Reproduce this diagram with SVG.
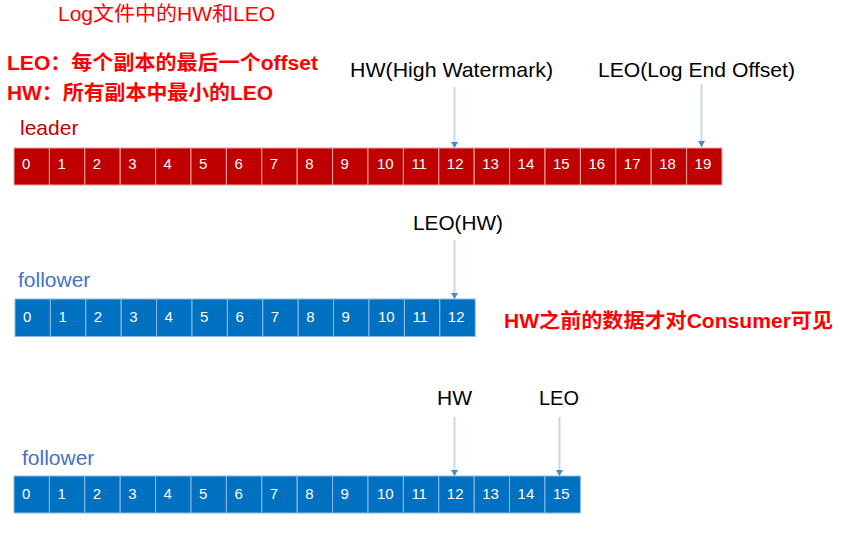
<svg xmlns="http://www.w3.org/2000/svg" width="845" height="557" viewBox="0 0 845 557">
<style>
.num{font-family:"Liberation Sans",Arial,sans-serif;font-size:15px;fill:#ffffff}
.rc{fill:#c00000;stroke:#e9a4a4;stroke-width:1}
.bc{fill:#0070c0;stroke:#8dbbe6;stroke-width:1}
.lbl{font-family:"Liberation Sans",Arial,sans-serif;font-size:21px;fill:#000000}
.red{font-family:"Liberation Sans","Noto Sans CJK SC",sans-serif;fill:#ff0000}
.bold{font-weight:bold;font-size:20px}
.conn{stroke:#c4d8ee;stroke-width:2;fill:none}
</style>
<defs>
<marker id="ah" markerUnits="userSpaceOnUse" markerWidth="6" markerHeight="7" viewBox="0 0 6 7" refX="6" refY="3.5" orient="auto">
<path d="M0,0 L6,3.5 L0,7 z" fill="#4f86c6"/>
</marker>
</defs>
<rect width="845" height="557" fill="#ffffff"/>

<g id="title"><text class="red" x="58" y="21" font-size="20" textLength="217" lengthAdjust="spacingAndGlyphs">Log文件中的HW和LEO</text></g>
<g id="def-leo"><text class="red bold" x="7" y="70" textLength="311" lengthAdjust="spacingAndGlyphs">LEO：每个副本的最后一个offset</text></g>
<g id="def-hw"><text class="red bold" x="7" y="100" textLength="266" lengthAdjust="spacingAndGlyphs">HW：所有副本中最小的LEO</text></g>
<g id="note"><text class="red bold" x="504" y="328" textLength="329" lengthAdjust="spacingAndGlyphs">HW之前的数据才对Consumer可见</text></g>

<g id="lbl-hw-top"><text class="lbl" x="350" y="77" textLength="203" lengthAdjust="spacingAndGlyphs">HW(High Watermark)</text></g>
<g id="lbl-leo-top"><text class="lbl" x="598" y="77" textLength="197" lengthAdjust="spacingAndGlyphs">LEO(Log End Offset)</text></g>
<g id="lbl-leohw"><text class="lbl" x="413" y="230" textLength="90" lengthAdjust="spacingAndGlyphs">LEO(HW)</text></g>
<g id="lbl-hw-bot"><text class="lbl" x="437" y="405" textLength="35" lengthAdjust="spacingAndGlyphs">HW</text></g>
<g id="lbl-leo-bot"><text class="lbl" x="539" y="405" textLength="40" lengthAdjust="spacingAndGlyphs">LEO</text></g>

<g id="leader-label"><text x="20" y="135" font-family="Liberation Sans, Arial, sans-serif" font-size="21" fill="#c00000">leader</text></g>
<g id="follower1-label"><text x="18" y="287" font-family="Liberation Sans, Arial, sans-serif" font-size="21" fill="#4472c4">follower</text></g>
<g id="follower2-label"><text x="22" y="465" font-family="Liberation Sans, Arial, sans-serif" font-size="21" fill="#4472c4">follower</text></g>

<g id="leader" transform="translate(14,148)">
<rect class="rc" x="0" y="0" width="35.4" height="37"/><text class="num" x="8" y="20.5">0</text>
<rect class="rc" x="35.4" y="0" width="35.4" height="37"/><text class="num" x="43.4" y="20.5">1</text>
<rect class="rc" x="70.8" y="0" width="35.4" height="37"/><text class="num" x="78.8" y="20.5">2</text>
<rect class="rc" x="106.2" y="0" width="35.4" height="37"/><text class="num" x="114.2" y="20.5">3</text>
<rect class="rc" x="141.6" y="0" width="35.4" height="37"/><text class="num" x="149.6" y="20.5">4</text>
<rect class="rc" x="177" y="0" width="35.4" height="37"/><text class="num" x="185" y="20.5">5</text>
<rect class="rc" x="212.4" y="0" width="35.4" height="37"/><text class="num" x="220.4" y="20.5">6</text>
<rect class="rc" x="247.8" y="0" width="35.4" height="37"/><text class="num" x="255.8" y="20.5">7</text>
<rect class="rc" x="283.2" y="0" width="35.4" height="37"/><text class="num" x="291.2" y="20.5">8</text>
<rect class="rc" x="318.6" y="0" width="35.4" height="37"/><text class="num" x="326.6" y="20.5">9</text>
<rect class="rc" x="354" y="0" width="35.4" height="37"/><text class="num" x="363" y="20.5">10</text>
<rect class="rc" x="389.4" y="0" width="35.4" height="37"/><text class="num" x="397.4" y="20.5">11</text>
<rect class="rc" x="424.8" y="0" width="35.4" height="37"/><text class="num" x="432.8" y="20.5">12</text>
<rect class="rc" x="460.2" y="0" width="35.4" height="37"/><text class="num" x="468.2" y="20.5">13</text>
<rect class="rc" x="495.6" y="0" width="35.4" height="37"/><text class="num" x="503.6" y="20.5">14</text>
<rect class="rc" x="531" y="0" width="35.4" height="37"/><text class="num" x="539" y="20.5">15</text>
<rect class="rc" x="566.4" y="0" width="35.4" height="37"/><text class="num" x="574.4" y="20.5">16</text>
<rect class="rc" x="601.8" y="0" width="35.4" height="37"/><text class="num" x="609.8" y="20.5">17</text>
<rect class="rc" x="637.2" y="0" width="35.4" height="37"/><text class="num" x="645.2" y="20.5">18</text>
<rect class="rc" x="672.6" y="0" width="35.4" height="37"/><text class="num" x="680.6" y="20.5">19</text>
</g>

<g id="follower1" transform="translate(15,299)">
<rect class="bc" x="0" y="0" width="35.4" height="37.5"/><text class="num" x="8" y="23">0</text>
<rect class="bc" x="35.4" y="0" width="35.4" height="37.5"/><text class="num" x="43.4" y="23">1</text>
<rect class="bc" x="70.8" y="0" width="35.4" height="37.5"/><text class="num" x="78.8" y="23">2</text>
<rect class="bc" x="106.2" y="0" width="35.4" height="37.5"/><text class="num" x="114.2" y="23">3</text>
<rect class="bc" x="141.6" y="0" width="35.4" height="37.5"/><text class="num" x="149.6" y="23">4</text>
<rect class="bc" x="177" y="0" width="35.4" height="37.5"/><text class="num" x="185" y="23">5</text>
<rect class="bc" x="212.4" y="0" width="35.4" height="37.5"/><text class="num" x="220.4" y="23">6</text>
<rect class="bc" x="247.8" y="0" width="35.4" height="37.5"/><text class="num" x="255.8" y="23">7</text>
<rect class="bc" x="283.2" y="0" width="35.4" height="37.5"/><text class="num" x="291.2" y="23">8</text>
<rect class="bc" x="318.6" y="0" width="35.4" height="37.5"/><text class="num" x="326.6" y="23">9</text>
<rect class="bc" x="354" y="0" width="35.4" height="37.5"/><text class="num" x="363" y="23">10</text>
<rect class="bc" x="389.4" y="0" width="35.4" height="37.5"/><text class="num" x="397.4" y="23">11</text>
<rect class="bc" x="424.8" y="0" width="35.4" height="37.5"/><text class="num" x="432.8" y="23">12</text>
</g>

<g id="follower2" transform="translate(14,476)">
<rect class="bc" x="0" y="0" width="35.4" height="37"/><text class="num" x="8" y="22.5">0</text>
<rect class="bc" x="35.4" y="0" width="35.4" height="37"/><text class="num" x="43.4" y="22.5">1</text>
<rect class="bc" x="70.8" y="0" width="35.4" height="37"/><text class="num" x="78.8" y="22.5">2</text>
<rect class="bc" x="106.2" y="0" width="35.4" height="37"/><text class="num" x="114.2" y="22.5">3</text>
<rect class="bc" x="141.6" y="0" width="35.4" height="37"/><text class="num" x="149.6" y="22.5">4</text>
<rect class="bc" x="177" y="0" width="35.4" height="37"/><text class="num" x="185" y="22.5">5</text>
<rect class="bc" x="212.4" y="0" width="35.4" height="37"/><text class="num" x="220.4" y="22.5">6</text>
<rect class="bc" x="247.8" y="0" width="35.4" height="37"/><text class="num" x="255.8" y="22.5">7</text>
<rect class="bc" x="283.2" y="0" width="35.4" height="37"/><text class="num" x="291.2" y="22.5">8</text>
<rect class="bc" x="318.6" y="0" width="35.4" height="37"/><text class="num" x="326.6" y="22.5">9</text>
<rect class="bc" x="354" y="0" width="35.4" height="37"/><text class="num" x="363" y="22.5">10</text>
<rect class="bc" x="389.4" y="0" width="35.4" height="37"/><text class="num" x="397.4" y="22.5">11</text>
<rect class="bc" x="424.8" y="0" width="35.4" height="37"/><text class="num" x="432.8" y="22.5">12</text>
<rect class="bc" x="460.2" y="0" width="35.4" height="37"/><text class="num" x="468.2" y="22.5">13</text>
<rect class="bc" x="495.6" y="0" width="35.4" height="37"/><text class="num" x="503.6" y="22.5">14</text>
<rect class="bc" x="531" y="0" width="35.4" height="37"/><text class="num" x="539" y="22.5">15</text>
</g>

<g id="connectors">
<line class="conn" x1="454.5" y1="87" x2="454.5" y2="148" marker-end="url(#ah)"/>
<line class="conn" x1="701.5" y1="84" x2="701.5" y2="147" marker-end="url(#ah)" stroke-width="1.2"/>
<line class="conn" x1="454.5" y1="240" x2="454.5" y2="299" marker-end="url(#ah)"/>
<line class="conn" x1="454.5" y1="417" x2="454.5" y2="476" marker-end="url(#ah)"/>
<line class="conn" x1="559.5" y1="417" x2="559.5" y2="476" marker-end="url(#ah)"/>
</g>
</svg>
